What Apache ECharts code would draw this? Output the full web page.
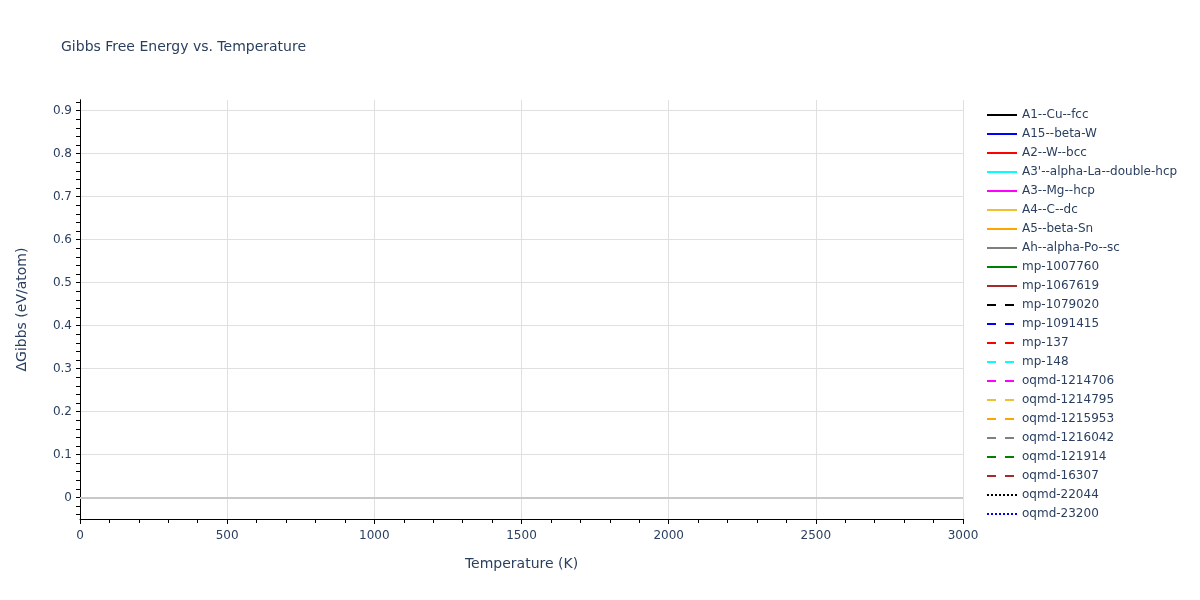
<!DOCTYPE html>
<html>
<head>
    <meta charset="utf-8">
    <title>Gibbs Free Energy vs. Temperature</title>
    <script src="https://cdn.jsdelivr.net/npm/echarts@6/dist/echarts.min.js"></script>
    <style>
        html, body { margin: 0; padding: 0; background: #fff; }
        #main { width: 1200px; height: 600px; }
    </style>
</head>
<body>
<div id="main"></div>
<script type="text/javascript">
    // series shown in the legend (no curve is visible in the plot area)
    var seriesNames = ['A1--Cu--fcc', 'A15--beta-W', 'A2--W--bcc', "A3'--alpha-La--double-hcp",
        'A3--Mg--hcp', 'A4--C--dc', 'A5--beta-Sn', 'Ah--alpha-Po--sc', 'mp-1007760', 'mp-1067619',
        'mp-1079020', 'mp-1091415', 'mp-137', 'mp-148', 'oqmd-1214706', 'oqmd-1214795',
        'oqmd-1215953', 'oqmd-1216042', 'oqmd-121914', 'oqmd-16307', 'oqmd-22044', 'oqmd-23200'];
    var seriesColors = ['#000000', '#0000ff', '#ff0000', '#00ffff', '#ff00ff', '#f0c030', '#ffa500',
        '#808080', '#008000', '#a52a2a',
        '#000000', '#0000ff', '#ff0000', '#00ffff', '#ff00ff', '#f0c030', '#ffa500',
        '#808080', '#008000', '#a52a2a',
        '#000000', '#0000ff'];
    var seriesDash = ['solid', 'solid', 'solid', 'solid', 'solid', 'solid', 'solid', 'solid', 'solid', 'solid',
        [9, 9], [9, 9], [9, 9], [9, 9], [9, 9], [9, 9], [9, 9], [9, 9], [9, 9], [9, 9],
        [2, 2], [2, 2]];
    // temperature (K) / dGibbs (eV/atom) pairs per series: nothing is drawn in the reference
    var seriesData = seriesNames.map(function () { return []; });

    var xTicks = [0, 500, 1000, 1500, 2000, 2500, 3000];
    var yLabels = [0, 0.1, 0.2, 0.3, 0.4, 0.5, 0.6, 0.7, 0.8, 0.9];
    var yMinor = [-0.04, -0.02, 0, 0.02, 0.04, 0.06, 0.08, 0.1, 0.12, 0.14, 0.16, 0.18, 0.2, 0.22, 0.24,
        0.26, 0.28, 0.3, 0.32, 0.34, 0.36, 0.38, 0.4, 0.42, 0.44, 0.46, 0.48, 0.5, 0.52, 0.54, 0.56,
        0.58, 0.6, 0.62, 0.64, 0.66, 0.68, 0.7, 0.72, 0.74, 0.76, 0.78, 0.8, 0.82, 0.84, 0.86, 0.88,
        0.9, 0.92];

    var font = 'DejaVu Sans';
    var textColor = '#2a3f5f';

    var myChart = echarts.init(document.getElementById('main'));

    var series = seriesNames.map(function (name, i) {
        return {
            name: name,
            type: 'line',
            data: seriesData[i],
            symbol: 'none',
            showSymbol: false,
            xAxisIndex: 0,
            yAxisIndex: 0,
            color: seriesColors[i],
            lineStyle: { color: seriesColors[i], width: 2, type: seriesDash[i] }
        };
    });
    // zero line
    series[0].markLine = {
        silent: true,
        symbol: 'none',
        label: { show: false },
        lineStyle: { color: '#c8c8c8', width: 2, type: 'solid' },
        data: [{ yAxis: 0 }]
    };

    var option = {
        animation: false,
        backgroundColor: '#ffffff',
        title: {
            text: 'Gibbs Free Energy vs. Temperature',
            left: 56,
            top: 35,
            textStyle: { fontFamily: font, fontSize: 14, fontWeight: 'normal', color: textColor }
        },
        legend: {
            orient: 'vertical',
            left: 981,
            top: 104,
            itemWidth: 30,
            itemHeight: 12,
            itemGap: 7,
            itemStyle: { opacity: 0 },
            textStyle: { fontFamily: font, fontSize: 12, color: textColor },
            data: seriesNames
        },
        grid: { left: 80, right: 237, top: 100, bottom: 81, containLabel: false },
        xAxis: [{
            type: 'value',
            min: 0,
            max: 3000,
            interval: 500,
            name: 'Temperature (K)',
            nameLocation: 'middle',
            nameGap: 38,
            nameTextStyle: { fontFamily: font, fontSize: 14, color: textColor },
            axisLine: { show: true, onZero: false, lineStyle: { color: '#000', width: 1 } },
            axisTick: { show: true, inside: false, length: 5, lineStyle: { color: '#000' } },
            minorTick: { show: true, splitNumber: 5, length: 4, lineStyle: { color: '#000' } },
            axisLabel: {
                fontFamily: font, fontSize: 12, color: textColor, margin: 11,
                formatter: function (v) { return xTicks.indexOf(v) >= 0 ? String(v) : ''; }
            },
            splitLine: { show: true, lineStyle: { color: '#e0e0e0', width: 1 } }
        }],
        yAxis: [{
            type: 'value',
            min: -0.05,
            max: 0.925,
            name: 'ΔGibbs (eV/atom)',
            nameLocation: 'middle',
            nameGap: 51,
            nameTextStyle: { fontFamily: font, fontSize: 14, color: textColor },
            axisLine: { show: true, onZero: false, lineStyle: { color: '#000', width: 1 } },
            axisTick: { show: false, customValues: yLabels },
            axisLabel: {
                fontFamily: font, fontSize: 12, color: textColor, margin: 8,
                customValues: yLabels,
                formatter: function (v) { return Math.abs(v) < 1e-9 ? '0' : v.toFixed(1); }
            },
            splitLine: { show: true, lineStyle: { color: '#e0e0e0', width: 1 } }
        }, {
            type: 'value',
            min: -0.05,
            max: 0.925,
            position: 'left',
            axisLine: { show: true, onZero: false, lineStyle: { color: '#000', width: 1 } },
            axisTick: { show: true, inside: false, length: 4, customValues: yMinor, lineStyle: { color: '#000' } },
            axisLabel: { show: false },
            splitLine: { show: false }
        }],
        series: series
    };

    myChart.setOption(option);
</script>
</body>
</html>
